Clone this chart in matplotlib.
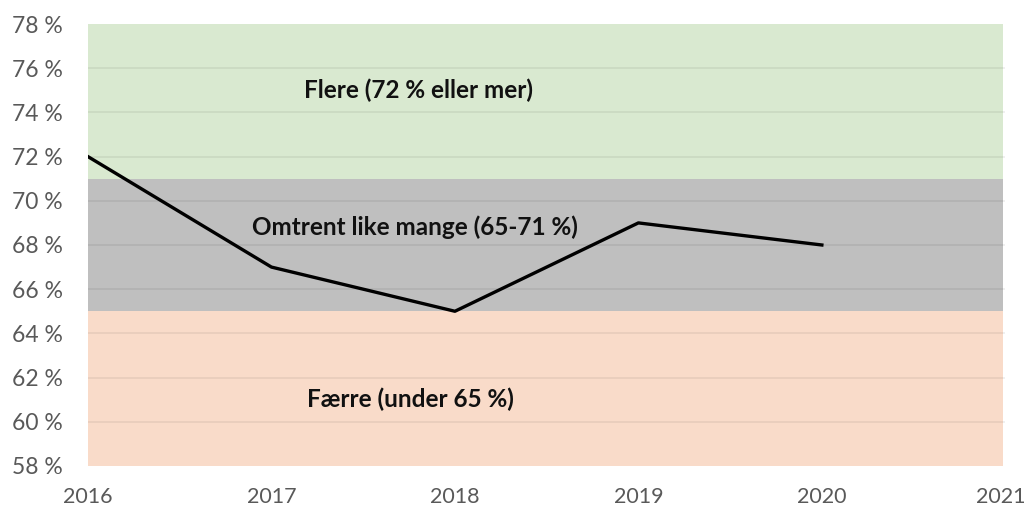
import matplotlib.pyplot as plt
import matplotlib.transforms as mtransforms
import numpy as np

# data
years = [2016, 2017, 2018, 2019, 2020]
share = [72, 67, 65, 69, 68]

band_low = [71, 65, 58]
band_high = [78, 71, 65]
band_labels = ["Flere (72 % eller mer)", "Omtrent like mange (65-71 %)", "Færre (under 65 %)"]
band_colors = ["#d9e9d0", "#bfbfbf", "#f9dbc9"]
label_x = [2017.80, 2017.78, 2017.76]
label_y = [75.0, 68.8, 61.0]

yticks = np.arange(58, 79, 2)
xticks = [2016, 2017, 2018, 2019, 2020, 2021]

plt.rcParams['font.family'] = ['Lato', 'DejaVu Sans']

fig = plt.figure(figsize=(10.29, 5.12), dpi=100)
ax = fig.add_axes([0.0855, 0.090, 0.8915, 0.863])

for lo, hi, c in zip(band_low, band_high, band_colors):
    ax.axhspan(lo, hi, xmin=0, xmax=0.9978, color=c, zorder=0, lw=0)

for y in yticks[1:-1]:
    ax.axhline(y, color='#000000', alpha=0.07, lw=1.2, zorder=1)

ax.plot(years, share, color='black', lw=2.4, zorder=3)

for txt, x, y in zip(band_labels, label_x, label_y):
    ax.text(x, y, txt, ha='center', va='center', fontsize=17.5, fontweight='bold', color='#111111', zorder=4)

ax.set_xlim(2016, 2021)
ax.set_ylim(58, 78)
ax.set_yticks(yticks)
ax.set_yticklabels([f"{v} %" for v in yticks])
ax.set_xticks(xticks)
ax.tick_params(length=0, labelsize=16.5, labelcolor='#595959')
ax.tick_params(axis='x', labelsize=15.5, pad=15)
ax.tick_params(axis='y', pad=18)
for s in ax.spines.values():
    s.set_visible(False)

# nudge last year label so it stays inside the figure
last = ax.get_xticklabels()[-1]
last.set_transform(last.get_transform() + mtransforms.ScaledTranslation(-5 / 100, 0, fig.dpi_scale_trans))

fig.savefig("out.png", dpi=100)
